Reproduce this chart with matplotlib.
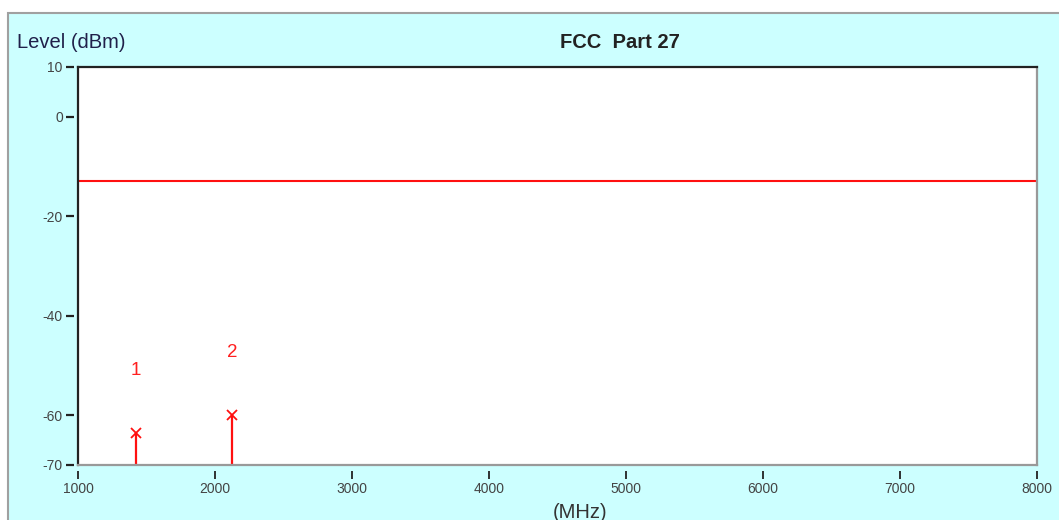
import matplotlib.pyplot as plt
from matplotlib.patches import Rectangle

# data
marker_ids = ["1", "2"]
marker_freq = [1423, 2123]      # MHz
marker_level = [-63.5, -60.0]   # dBm
limit_level = -13.0             # FCC Part 27 limit, dBm
x_ticks = [1000, 2000, 3000, 4000, 5000, 6000, 7000, 8000]
y_ticks = [10, 0, -20, -40, -60, -70]

plt.rcParams['font.family'] = ['Liberation Sans', 'DejaVu Sans']
plt.rcParams['axes.unicode_minus'] = False

fig = plt.figure(figsize=(10.59, 5.2), dpi=100)
fig.patch.set_facecolor('white')
fig.patches.append(Rectangle((8 / 1059, -0.05), 1.1, 0.975 + 0.05, transform=fig.transFigure,
                             facecolor='#ccffff', edgecolor='#a0a0a0', linewidth=1.5, zorder=-5))

ax = fig.add_axes([0.0737, 0.1058, 0.9055, 0.7654])
ax.set_facecolor('white')
ax.set_xlim(1000, 8000)
ax.set_ylim(-70, 10)

# limit line
ax.axhline(limit_level, color='#ff1010', linewidth=1.5)

# markers: stem from bottom up to level, x on top, number above
for mid, f, lv in zip(marker_ids, marker_freq, marker_level):
    ax.vlines(f, -70, lv, color='#ff1010', linewidth=1.6)
    ax.plot(f, lv, marker='x', color='#ff1010', markersize=7, markeredgewidth=1.3)
    ax.annotate(mid, (f, lv), xytext=(0, 45), textcoords='offset points',
                ha='center', va='center', color='#ff2020', fontsize=13.5)

ax.set_xticks(x_ticks)
ax.set_yticks(y_ticks)
ax.tick_params(axis='y', direction='out', length=6, width=1.6, color='#222222',
               labelsize=10, labelcolor='#444444', pad=2)
ax.tick_params(axis='x', direction='out', length=5.5, width=1.3, color='#222222',
               labelsize=10, labelcolor='#444444', pad=3)

# frame: left/top dark, right/bottom grey; ticks kept off the frame
ax.spines['left'].set_position(('outward', 3))
ax.spines['bottom'].set_position(('outward', 4))
ax.spines['left'].set_color('none')
ax.spines['bottom'].set_color('none')
ax.spines['top'].set_color('#222222')
ax.spines['top'].set_linewidth(1.6)
ax.spines['right'].set_color('#999999')
ax.spines['right'].set_linewidth(1.6)
ax.plot([0, 0], [0, 1], transform=ax.transAxes, color='#222222', linewidth=1.6, clip_on=False)
ax.plot([0, 1], [0, 0], transform=ax.transAxes, color='#999999', linewidth=1.6, clip_on=False)

fig.text(17 / 1059, 1 - 42 / 520, "Level (dBm)", fontsize=14.5, color='#20204a',
         ha='left', va='center')
fig.text(620 / 1059, 1 - 42 / 520, "FCC  Part 27", fontsize=14.5, fontweight='bold',
         color='#222222', ha='center', va='center')
fig.text(580 / 1059, 1 - 512 / 520, "(MHz)", fontsize=14.5, color='#333333',
         ha='center', va='center')

fig.savefig("out.png", dpi=100)
